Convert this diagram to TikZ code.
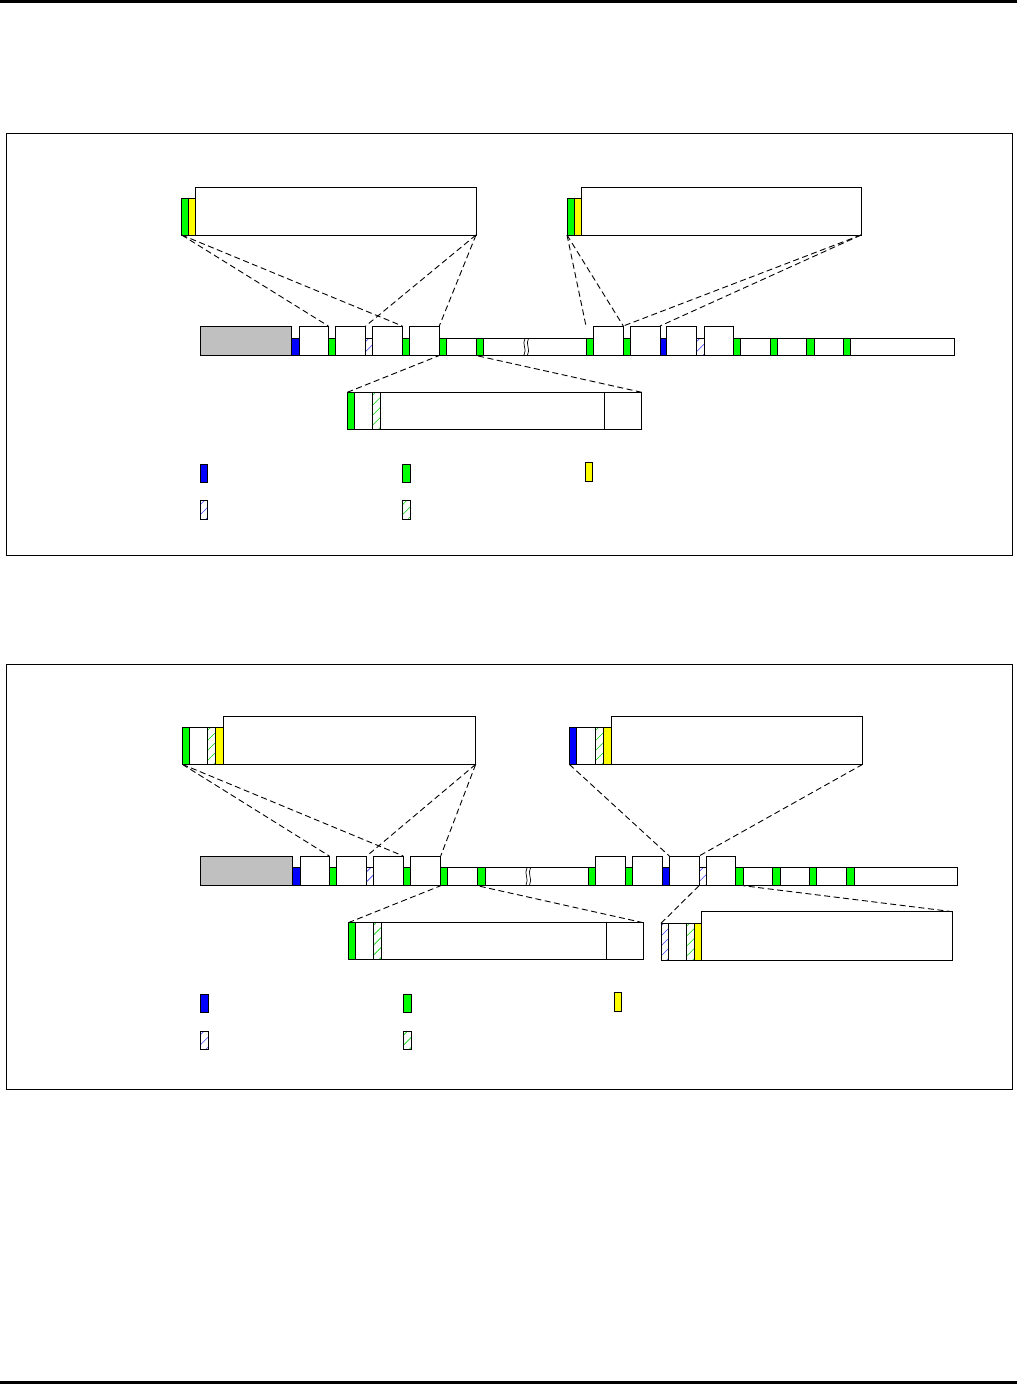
\documentclass[tikz,border=0pt]{standalone}
\definecolor{cblue}{RGB}{0,0,255}
\definecolor{cgreen}{RGB}{0,255,0}
\definecolor{cyellow}{RGB}{255,255,0}
\definecolor{cgray}{RGB}{192,192,192}
\tikzset{
  segbox/.style={draw=black,line width=0.8pt,inner sep=0pt,outer sep=0pt,fill=white},
  bluef/.style={fill=cblue},
  greenf/.style={fill=cgreen},
  yellowf/.style={fill=cyellow},
  grayf/.style={fill=cgray},
  whitef/.style={fill=white},
  hatchlines/.style={fill=white,path picture={
      \foreach \k in {0,...,7}
        \draw[#1,line width=0.6pt]
          ([xshift=-6pt,yshift=\k*10pt-12pt]path picture bounding box.south west) -- ++(22pt,22pt);}},
  bluehatch/.style={hatchlines=cblue!75},
  greenhatch/.style={hatchlines=cgreen!85!black},
  zoomline/.style={draw=black,line width=0.9pt,dash pattern=on 6pt off 3.5pt},
  framebox/.style={draw=black,line width=1pt},
  breakmark/.style={draw=black,line width=0.7pt}
}
% segment: name, x1, x2, ytop, ybottom, style
\newcommand\segm[6]{\node[segbox,#6,minimum width={#3pt-#2pt},minimum height={#5pt-#4pt},anchor=north west] (#1) at (#2,#4) {};}
\begin{document}
\begin{tikzpicture}[x=1pt,y=-1pt]
\useasboundingbox (0,0) rectangle (1017,1384);
\fill[black] (0,0) rectangle (1017,3);
\fill[black] (0,1380.5) rectangle (1017,1384);
\node[framebox,inner sep=0pt,outer sep=0pt,minimum width=1006pt,minimum height=422pt,anchor=north west] (frame1) at (6,133) {};
\node[framebox,inner sep=0pt,outer sep=0pt,minimum width=1006pt,minimum height=425pt,anchor=north west] (frame2) at (6,664) {};

% ================= Panel 1 =================
\def\T{326}\def\L{338}\def\B{355.5}
\segm{ag0}{200}{291.7}{\T}{\B}{grayf}
\segm{ab1}{291.7}{299.3}{\L}{\B}{bluef}
\segm{at1}{299.3}{328.3}{\T}{\B}{whitef}
\segm{an1}{328.3}{335.7}{\L}{\B}{greenf}
\segm{at2}{335.7}{365.7}{\T}{\B}{whitef}
\segm{an2}{365.7}{372.3}{\L}{\B}{bluehatch}
\segm{at3}{372.3}{402.3}{\T}{\B}{whitef}
\segm{an3}{402.3}{409.3}{\L}{\B}{greenf}
\segm{at4}{409.3}{439.3}{\T}{\B}{whitef}
\segm{an4}{439.3}{446.3}{\L}{\B}{greenf}
\segm{al1}{446.3}{476}{\L}{\B}{whitef}
\segm{an5}{476}{483.3}{\L}{\B}{greenf}
\segm{al2}{483.3}{586}{\L}{\B}{whitef}
\segm{an6}{586}{593.3}{\L}{\B}{greenf}
\segm{at5}{593.3}{623.3}{\T}{\B}{whitef}
\segm{an7}{623.3}{630}{\L}{\B}{greenf}
\segm{at6}{630}{660}{\T}{\B}{whitef}
\segm{an8}{660}{666.7}{\L}{\B}{bluef}
\segm{at7}{666.7}{696.7}{\T}{\B}{whitef}
\segm{an9}{696.7}{704}{\L}{\B}{bluehatch}
\segm{at8}{704}{733.3}{\T}{\B}{whitef}
\segm{an10}{733.3}{740.7}{\L}{\B}{greenf}
\segm{al3}{740.7}{770}{\L}{\B}{whitef}
\segm{an11}{770}{777.3}{\L}{\B}{greenf}
\segm{al4}{777.3}{806.7}{\L}{\B}{whitef}
\segm{an12}{806.7}{814}{\L}{\B}{greenf}
\segm{al5}{814}{843.3}{\L}{\B}{whitef}
\segm{an13}{843.3}{850.7}{\L}{\B}{greenf}
\segm{al6}{850.7}{954}{\L}{\B}{whitef}
\draw[breakmark] (525,338.5) .. controls (521.5,344) and (527.5,349.5) .. (524,355);
\draw[breakmark] (528.5,338.5) .. controls (525,344) and (531,349.5) .. (527.5,355);

% top-left zoom box
\segm{aAg}{181.7}{188.3}{198.3}{235}{greenf}
\segm{aAy}{188.3}{195.7}{198.3}{235}{yellowf}
\segm{aAb}{195.7}{476}{187.3}{235}{whitef}
% top-right zoom box
\segm{aBg}{567}{574.3}{198.3}{235}{greenf}
\segm{aBy}{574.3}{581.7}{198.3}{235}{yellowf}
\segm{aBb}{581.7}{861}{187.3}{235}{whitef}
% lower zoom box
\segm{aCg}{347.3}{354.3}{392.3}{429}{greenf}
\segm{aCw}{354.3}{372.7}{392.3}{429}{whitef}
\segm{aCh}{372.7}{380.7}{392.3}{429}{greenhatch}
\segm{aCb}{380.7}{604.3}{392.3}{429}{whitef}
\segm{aCe}{604.3}{641.7}{392.3}{429}{whitef}

\draw[zoomline] (aAg.south west) -- (at1.north east);
\draw[zoomline] (aAg.south west) -- (at3.north east);
\draw[zoomline] (aAb.south east) -- (at2.north east);
\draw[zoomline] (aAb.south east) -- (at4.north east);
\draw[zoomline] (aBg.south west) -- (an6.west |- at5.north);
\draw[zoomline] (aBg.south west) -- (at5.north east);
\draw[zoomline] (aBb.south east) -- (at5.north east);
\draw[zoomline] (aBb.south east) -- (at6.north east);
\draw[zoomline] (aCg.north west) -- (an4.south west);
\draw[zoomline] (aCe.north east) -- (an5.south west);

% legend
\segm{aLb}{200}{207.7}{464}{482.3}{bluef}
\segm{aLg}{402.3}{410}{464}{482.3}{greenf}
\segm{aLy}{585}{592.7}{462.7}{481.7}{yellowf}
\segm{aLbh}{200}{207.7}{500}{519}{bluehatch}
\segm{aLgh}{402.3}{410}{500}{519}{greenhatch}

% ================= Panel 2 =================
\def\T{856}\def\L{867.3}\def\B{885.7}
\segm{bg0}{200.7}{292.3}{\T}{\B}{grayf}
\segm{bb1}{292.3}{300}{\L}{\B}{bluef}
\segm{bt1}{300}{329.3}{\T}{\B}{whitef}
\segm{bn1}{329.3}{336.7}{\L}{\B}{greenf}
\segm{bt2}{336.7}{366.7}{\T}{\B}{whitef}
\segm{bn2}{366.7}{373.3}{\L}{\B}{bluehatch}
\segm{bt3}{373.3}{403.3}{\T}{\B}{whitef}
\segm{bn3}{403.3}{410.7}{\L}{\B}{greenf}
\segm{bt4}{410.7}{440.7}{\T}{\B}{whitef}
\segm{bn4}{440.7}{447.7}{\L}{\B}{greenf}
\segm{bl1}{447.7}{477.3}{\L}{\B}{whitef}
\segm{bn5}{477.3}{485}{\L}{\B}{greenf}
\segm{bl2}{485}{588.3}{\L}{\B}{whitef}
\segm{bn6}{588.3}{595.7}{\L}{\B}{greenf}
\segm{bt5}{595.7}{625}{\T}{\B}{whitef}
\segm{bn7}{625}{632.3}{\L}{\B}{greenf}
\segm{bt6}{632.3}{662.3}{\T}{\B}{whitef}
\segm{bn8}{662.3}{669.3}{\L}{\B}{bluef}
\segm{bt7}{669.3}{699}{\T}{\B}{whitef}
\segm{bn9}{699}{706}{\L}{\B}{bluehatch}
\segm{bt8}{706}{735.7}{\T}{\B}{whitef}
\segm{bn10}{735.7}{743.3}{\L}{\B}{greenf}
\segm{bl3}{743.3}{772.7}{\L}{\B}{whitef}
\segm{bn11}{772.7}{780}{\L}{\B}{greenf}
\segm{bl4}{780}{809.3}{\L}{\B}{whitef}
\segm{bn12}{809.3}{816.7}{\L}{\B}{greenf}
\segm{bl5}{816.7}{846.7}{\L}{\B}{whitef}
\segm{bn13}{846.7}{854}{\L}{\B}{greenf}
\segm{bl6}{854}{957.3}{\L}{\B}{whitef}
\draw[breakmark] (527,867.8) .. controls (523.5,873.5) and (529.5,879) .. (526,885.2);
\draw[breakmark] (530.5,867.8) .. controls (527,873.5) and (533,879) .. (529.5,885.2);

% top-left zoom box
\segm{bAg}{182.3}{189.3}{727.3}{764.3}{greenf}
\segm{bAw}{189.3}{207.7}{727.3}{764.3}{whitef}
\segm{bAh}{207.7}{215.7}{727.3}{764.3}{greenhatch}
\segm{bAy}{215.7}{223.3}{727.3}{764.3}{yellowf}
\segm{bAb}{223.3}{475.7}{716}{764.3}{whitef}
% top-right zoom box
\segm{bBl}{569.3}{576.7}{727.3}{764.3}{bluef}
\segm{bBw}{576.7}{595.7}{727.3}{764.3}{whitef}
\segm{bBh}{595.7}{603.3}{727.3}{764.3}{greenhatch}
\segm{bBy}{603.3}{611}{727.3}{764.3}{yellowf}
\segm{bBb}{611}{862.7}{716}{764.3}{whitef}
% lower-left zoom box
\segm{bCg}{348.3}{355.7}{922.7}{959.3}{greenf}
\segm{bCw}{355.7}{373.3}{922.7}{959.3}{whitef}
\segm{bCh}{373.3}{381.7}{922.7}{959.3}{greenhatch}
\segm{bCb}{381.7}{606.7}{922.7}{959.3}{whitef}
\segm{bCe}{606.7}{643.3}{922.7}{959.3}{whitef}
% lower-right zoom box
\segm{bDh}{661}{668.3}{923.3}{960}{bluehatch}
\segm{bDw}{668.3}{686.7}{923.3}{960}{whitef}
\segm{bDg}{686.7}{694}{923.3}{960}{greenhatch}
\segm{bDy}{694}{701.7}{923.3}{960}{yellowf}
\segm{bDb}{701.7}{952.7}{911.7}{960}{whitef}

\draw[zoomline] (bAg.south west) -- (bt1.north east);
\draw[zoomline] (bAg.south west) -- (bt3.north east);
\draw[zoomline] (bAb.south east) -- (bt2.north east);
\draw[zoomline] (bAb.south east) -- (bt4.north east);
\draw[zoomline] (bBl.south west) -- (bt7.north west);
\draw[zoomline] (bBb.south east) -- (bt7.north east);
\draw[zoomline] (bCg.north west) -- (bn4.south west);
\draw[zoomline] (bCe.north east) -- (bn5.south west);
\draw[zoomline] (bDh.north west) -- (bn9.south west);
\draw[zoomline] (bDb.north east) -- (bn10.south east);

% legend
\segm{bLb}{200}{208.3}{994}{1012.7}{bluef}
\segm{bLg}{403.3}{411}{994}{1012.7}{greenf}
\segm{bLy}{614}{621.7}{992.3}{1011}{yellowf}
\segm{bLbh}{200}{208.3}{1031}{1049.3}{bluehatch}
\segm{bLgh}{403.3}{411}{1031}{1049.3}{greenhatch}
\end{tikzpicture}
\end{document}
